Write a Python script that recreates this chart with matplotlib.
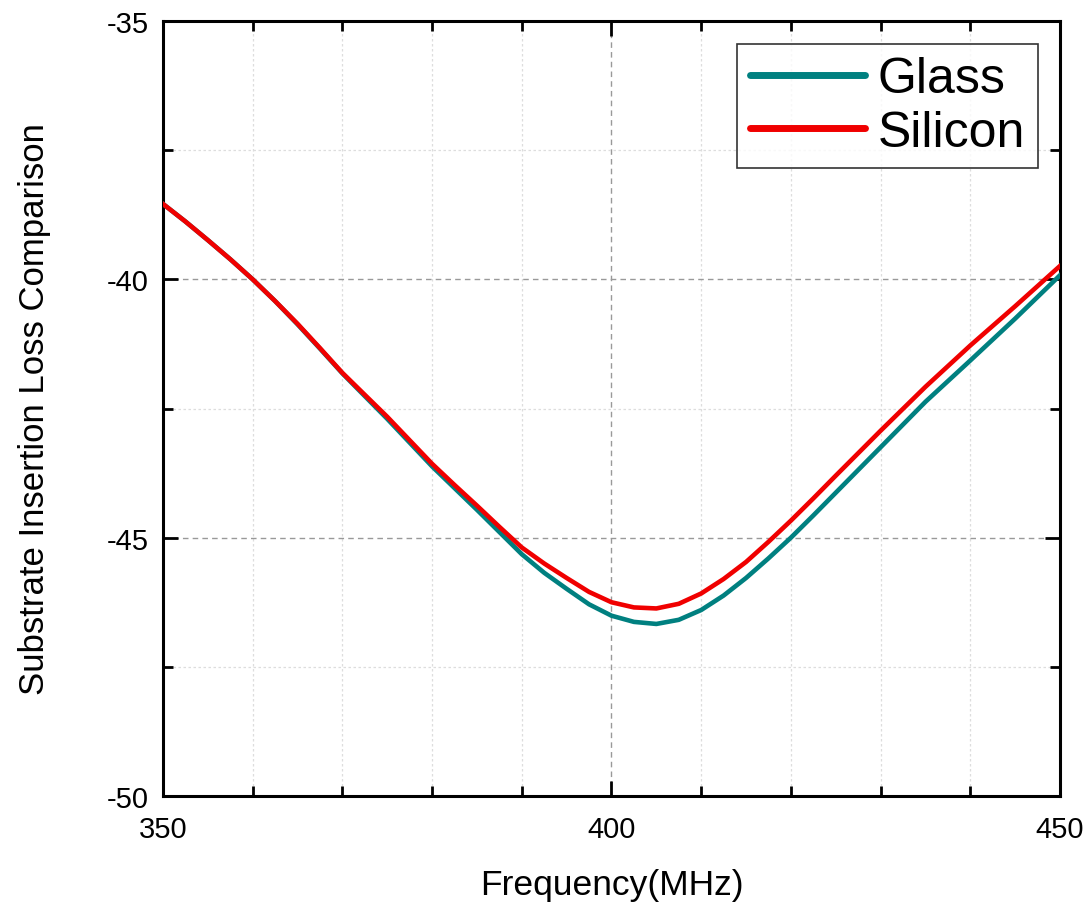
import numpy as np
import matplotlib
matplotlib.use("Agg")
import matplotlib.pyplot as plt
from matplotlib.ticker import MultipleLocator

# values
freq = [350, 352.5, 355, 357.5, 360, 362.5, 365, 367.5, 370, 375, 380, 382.5,
        385, 387.5, 390, 392.5, 395, 397.5, 400, 402.5, 405, 407.5, 410,
        412.5, 415, 417.5, 420, 422.5, 425, 430, 435, 440, 445, 450]
glass = [-38.54, -38.88, -39.24, -39.61, -40.00, -40.42, -40.87, -41.34,
         -41.82, -42.70, -43.62, -44.04, -44.46, -44.89, -45.32, -45.68,
         -45.99, -46.29, -46.51, -46.63, -46.67, -46.59, -46.40, -46.12,
         -45.78, -45.40, -45.00, -44.57, -44.13, -43.25, -42.37, -41.57,
         -40.76, -39.92]
silicon = [-38.54, -38.88, -39.24, -39.61, -40.00, -40.42, -40.86, -41.33,
           -41.81, -42.66, -43.57, -43.98, -44.38, -44.79, -45.19, -45.50,
           -45.78, -46.05, -46.25, -46.35, -46.37, -46.28, -46.08, -45.80,
           -45.47, -45.08, -44.67, -44.24, -43.80, -42.93, -42.08, -41.28,
           -40.52, -39.74]

plt.rcParams['font.family'] = ['Liberation Sans', 'DejaVu Sans']
plt.rcParams['axes.unicode_minus'] = False

fig = plt.figure(figsize=(10.9, 9.03), dpi=100)
ax = fig.add_axes([0.1495, 0.1174, 0.8230, 0.8582])

ax.plot(freq, glass, color='#008080', lw=3.3, label='Glass', zorder=3)
ax.plot(freq, silicon, color='#f00000', lw=3.3, label='Silicon', zorder=4)

ax.set_xlim(350, 450)
ax.set_ylim(-50, -35)
ax.xaxis.set_major_locator(MultipleLocator(50))
ax.xaxis.set_minor_locator(MultipleLocator(10))
ax.yaxis.set_major_locator(MultipleLocator(5))
ax.yaxis.set_minor_locator(MultipleLocator(2.5))

ax.grid(which='major', color='#999999', ls=(0, (4, 3)), lw=1.0, zorder=0)
ax.grid(which='minor', color='#dddddd', ls=(0, (2, 2)), lw=0.9, zorder=0)

ax.tick_params(which='both', direction='in', top=True, right=True,
               width=2.0, labelsize=21)
ax.tick_params(axis='x', pad=14)
ax.tick_params(axis='y', pad=10)
ax.tick_params(which='major', length=11)
ax.tick_params(which='minor', length=7)
for s in ax.spines.values():
    s.set_linewidth(2.2)

ax.set_xlabel('Frequency(MHz)', fontsize=25.5, labelpad=18)
ax.set_ylabel('Substrate Insertion Loss Comparison', fontsize=25,
              labelpad=40)

leg = ax.legend(loc='upper right', fontsize=36, frameon=True, fancybox=False,
                edgecolor='black', handlelength=2.3, handletextpad=0.26,
                borderpad=0.25, labelspacing=0.15, borderaxespad=0.45)
leg.get_frame().set_linewidth(1.2)
for line in leg.get_lines():
    line.set_linewidth(5)
    line.set_solid_capstyle('round')

fig.savefig('out.png', dpi=100)
